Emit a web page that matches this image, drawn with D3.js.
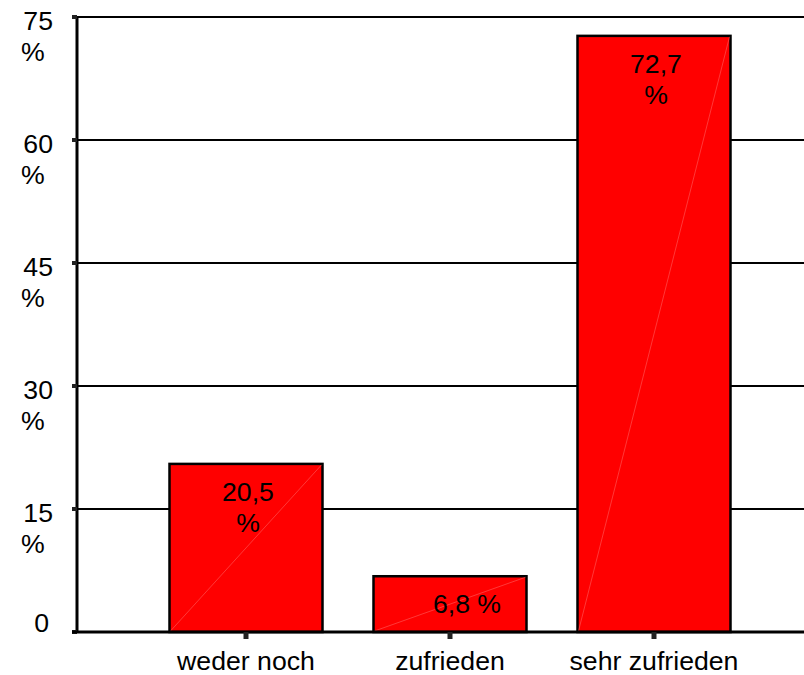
<!DOCTYPE html>
<html>
<head>
<meta charset="utf-8">
<script src="https://cdn.jsdelivr.net/npm/d3@7"></script>
<style>
  body { margin: 0; background: #fff; }
  text { font-family: "Liberation Sans", Arial, sans-serif; font-size: 26.67px; fill: #000; }
</style>
</head>
<body>
<script>
var width = 804, height = 675

var categories = ["weder noch", "zufrieden", "sehr zufrieden"];
var values = [20.5, 6.8, 72.7];
var yTicks = [0, 15, 30, 45, 60, 75];

var svg = d3.select("body")
    .append("svg")
    .attr("width", width)
    .attr("height", height);

var x = d3.scaleBand()
    .domain(categories)
    .range([144, 756])
    .paddingInner(.25)
    .paddingOuter(.125);

var y = d3.scaleLinear()
    .domain([0, 75])
    .range([632, 17]);

var left = 77, right = width;

// gridlines
svg.selectAll("line.grid")
    .data(yTicks.slice(1))
  .enter().append("line")
    .attr("class", "grid")
    .attr("x1", left).attr("x2", right)
    .attr("y1", function(d){ return y(d); })
    .attr("y2", function(d){ return y(d); })
    .attr("stroke", "#000")
    .attr("stroke-width", 2.2);

// bars
var bar = svg.selectAll("g.bar")
    .data(values)
  .enter().append("g")
    .attr("class", "bar");

bar.append("rect")
    .attr("x", function(d, i){ return x(categories[i]); })
    .attr("y", function(d){ return y(d); })
    .attr("width", x.bandwidth())
    .attr("height", function(d){ return y(0) - y(d); })
    .attr("fill", "#ff0000")
    .attr("stroke", "#000")
    .attr("stroke-width", 2.5);

// faint diagonal inside each bar
bar.append("line")
    .attr("x1", function(d, i){ return x(categories[i]) + 1; })
    .attr("y1", y(0) - 1)
    .attr("x2", function(d, i){ return x(categories[i]) + x.bandwidth() - 1; })
    .attr("y2", function(d){ return y(d) + 1; })
    .attr("stroke", "#ff7070")
    .attr("stroke-width", .5);

// value labels
var fmt = function(d){ return String(d).replace(".", ","); };
bar.each(function(d, i){
  var g = d3.select(this);
  var cx = x(categories[i]) + x.bandwidth() / 2 + 2;
  var short = y(0) - y(d) < 80;
  var t = g.append("text")
      .attr("text-anchor", "middle")
      .attr("x", short ? cx + 15 : cx)
      .attr("y", y(d) + 37);
  if (short) {
    t.text(fmt(d) + " %");
  } else {
    t.append("tspan").attr("x", cx).text(fmt(d));
    t.append("tspan").attr("x", cx).attr("dy", 31).text("%");
  }
});

// y axis
svg.append("line")
    .attr("x1", left).attr("x2", left)
    .attr("y1", y(75) - 1).attr("y2", y(0) + 1)
    .attr("stroke", "#000")
    .attr("stroke-width", 3);

svg.selectAll("line.ytick")
    .data(yTicks)
  .enter().append("line")
    .attr("x1", left - 5).attr("x2", left)
    .attr("y1", function(d){ return y(d); })
    .attr("y2", function(d){ return y(d); })
    .attr("stroke", "#222")
    .attr("stroke-width", 4);

svg.selectAll("g.ylab")
    .data(yTicks)
  .enter().append("g")
    .attr("class", "ylab")
    .each(function(d){
      var g = d3.select(this);
      if (d === 0) {
        g.append("text").attr("text-anchor", "end")
          .attr("x", 49).attr("y", y(d)).text(d);
      } else {
        g.append("text").attr("text-anchor", "end")
          .attr("x", 53).attr("y", y(d) + 13).text(d);
        g.append("text").attr("text-anchor", "start")
          .attr("x", 21).attr("y", y(d) + 44).text("%");
      }
    });

// x axis
svg.append("line")
    .attr("x1", left - 5).attr("x2", right)
    .attr("y1", y(0)).attr("y2", y(0))
    .attr("stroke", "#000")
    .attr("stroke-width", 3);

svg.selectAll("line.xtick")
    .data(categories)
  .enter().append("line")
    .attr("x1", function(d){ return x(d) + x.bandwidth() / 2; })
    .attr("x2", function(d){ return x(d) + x.bandwidth() / 2; })
    .attr("y1", y(0)).attr("y2", y(0) + 7)
    .attr("stroke", "#222")
    .attr("stroke-width", 5);

svg.selectAll("text.xlab")
    .data(categories)
  .enter().append("text")
    .attr("class", "xlab")
    .attr("text-anchor", "middle")
    .attr("x", function(d){ return x(d) + x.bandwidth() / 2; })
    .attr("y", 670)
    .text(function(d){ return d; });
</script>
</body>
</html>
